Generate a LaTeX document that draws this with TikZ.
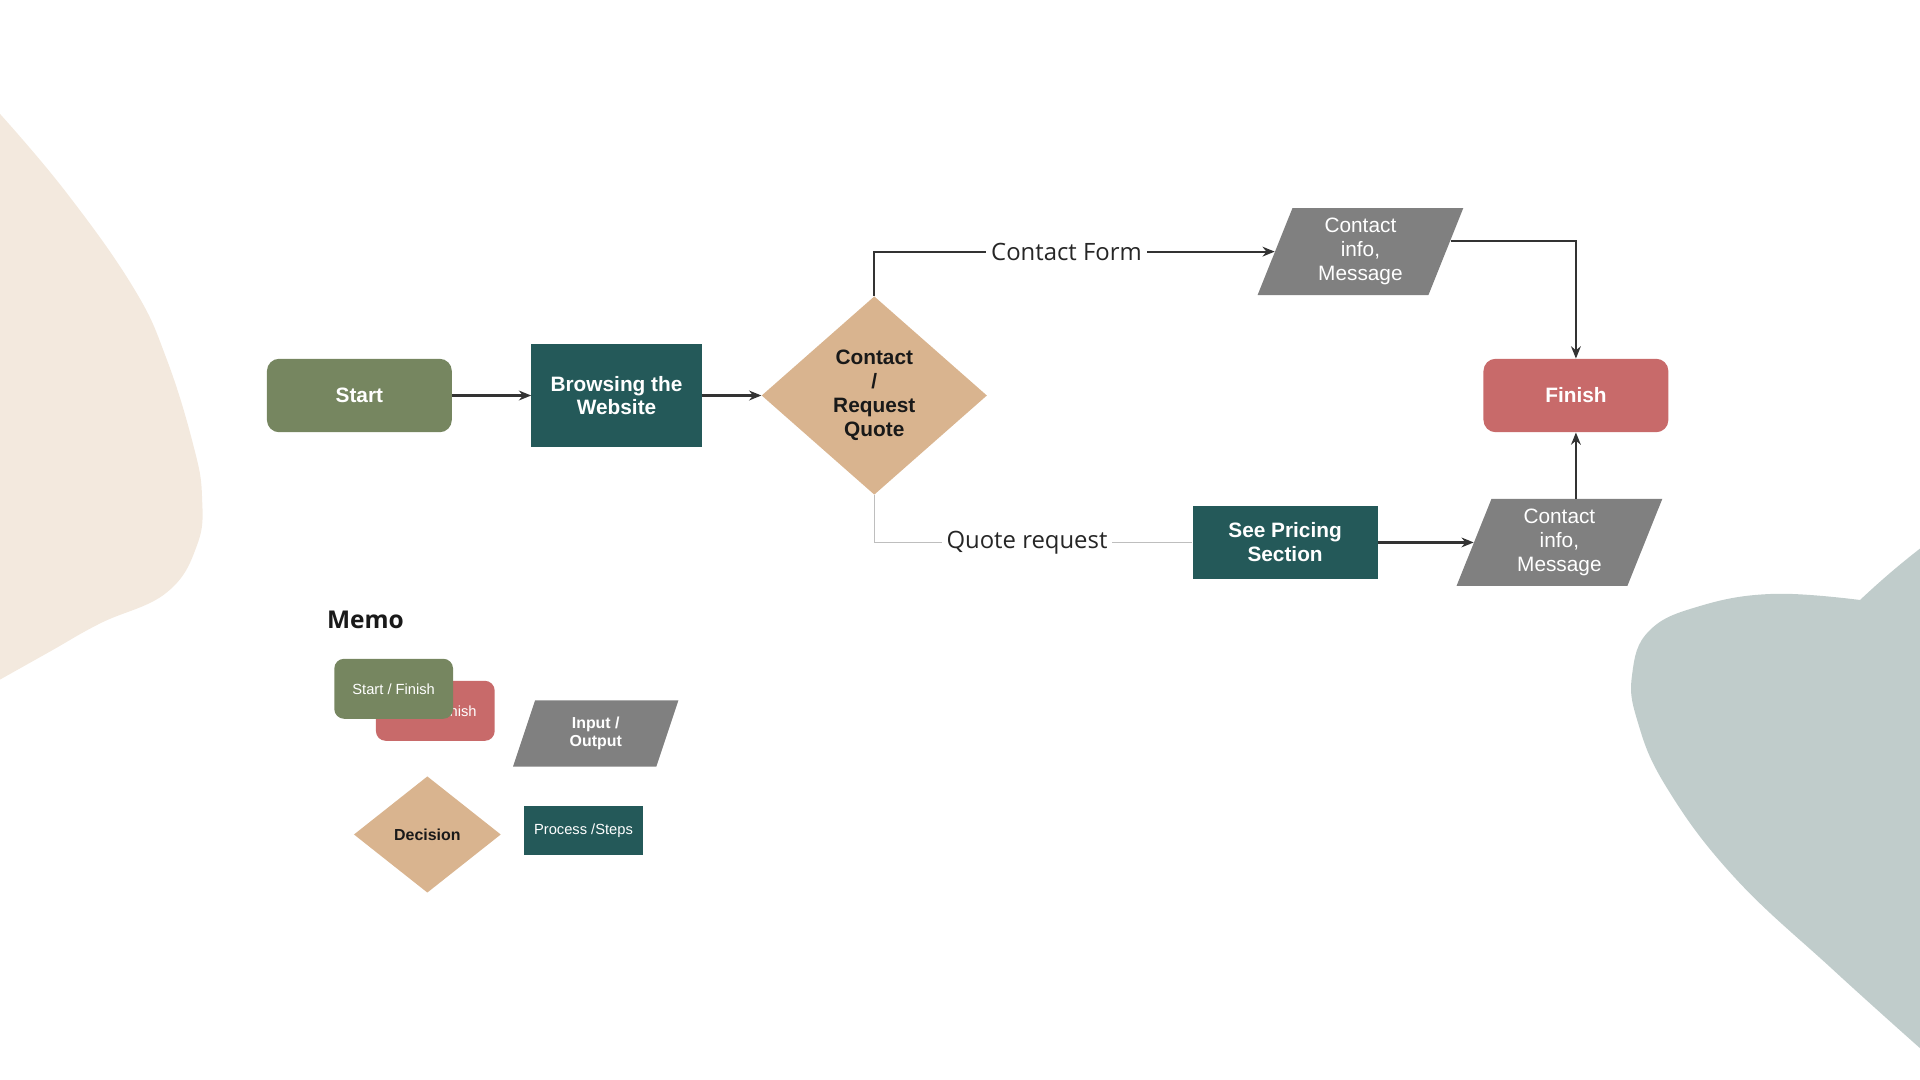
\documentclass[tikz,border=0pt]{standalone}
\usepackage{fontspec}
\setmainfont{Liberation Sans}
\newfontfamily\labelfont{Open Sans}
\usetikzlibrary{shapes.geometric, arrows.meta, positioning, calc}
\definecolor{startgreen}{RGB}{118,134,96}
\definecolor{stepteal}{RGB}{36,89,89}
\definecolor{choicetan}{RGB}{217,180,143}
\definecolor{finishred}{RGB}{200,106,106}
\definecolor{iogray}{RGB}{128,128,128}
\definecolor{blobbeige}{RGB}{243,233,222}
\definecolor{blobgray}{RGB}{192,204,203}
\definecolor{wire}{RGB}{51,51,51}
\definecolor{softwire}{RGB}{190,190,190}
\tikzset{
	term/.style={rectangle, rounded corners=10pt, minimum width=151pt, minimum height=60pt, text=white, font=\bfseries\fontsize{17}{19.5}\selectfont},
	process/.style={rectangle, fill=stepteal, align=center, text=white, font=\bfseries\fontsize{17}{19.5}\selectfont},
	decision/.style={diamond, aspect=1.136, inner sep=0pt, minimum width=184pt, minimum height=162pt, fill=choicetan, align=center, text=black!90, font=\bfseries\fontsize{17}{19.5}\selectfont},
	io/.style={trapezium, trapezium left angle=64, trapezium right angle=116, trapezium stretches body, inner sep=2pt, minimum width=168pt, minimum height=71pt, fill=iogray, align=center, text=white, font=\fontsize{17}{19.5}\selectfont},
	line/.style={draw=wire, line width=2pt},
	lbl/.style={fill=white, inner sep=4pt, text=black!85, font=\labelfont\fontsize{19.5}{22}\selectfont}
}

\begin{document}
\begin{tikzpicture}[
		x=1pt, y=-1pt,
		>={Stealth[length=10pt, width=8pt]},
		% Styles for the memo box
		legend term/.style={rectangle, rounded corners=8pt, minimum width=97pt, minimum height=49pt, text=white, font=\fontsize{12}{14}\selectfont},
		legend io/.style={io, trapezium left angle=60, trapezium right angle=120, minimum width=135pt, minimum height=54pt, font=\bfseries\fontsize{13}{15}\selectfont},
		legend decision/.style={decision, aspect=1.26, minimum width=120pt, minimum height=95pt, font=\bfseries\fontsize{13}{15}\selectfont},
		legend process/.style={process, minimum width=97pt, minimum height=40pt, font=\fontsize{12}{14}\selectfont}
		]
		\useasboundingbox (0,0) rectangle (1568,882);
		
		% --- Background Blobs ---
		\fill[blobbeige] plot[smooth, tension=0.7] coordinates {(0,93) (54,157) (109,235) (136,293) (158,364) (165,406) (161,445) (136,484) (82,509) (41,532) (0,555)} -- cycle;
		\fill[blobgray] (1568,448) .. controls (1550,462) and (1535,475) .. (1519,490)
			-- plot[smooth, tension=0.7] coordinates {(1519,490) (1448,485) (1388,495) (1347,515) (1333,550) (1337,588) (1361,643) (1416,716) (1497,792) (1568,856)} -- cycle;
		
		% --- Main Flow Nodes ---
		\node[term, fill=startgreen] (start) at (293.5,323) {Start};
		\node[process, minimum width=139pt, minimum height=84pt] (browse) at (503.5,323) {Browsing the\\Website};
		\node[decision] (choice) at (714,323) {Contact\\/\\Request\\Quote};
		\node[io] (form_info) at (1111,205.5) {Contact\\info,\\Message};
		\node[term, fill=finishred] (finish) at (1287,323) {Finish};
		\node[process, minimum width=151pt, minimum height=60pt] (pricing) at (1049.5,443) {See Pricing\\Section};
		\node[io] (quote_info) at (1273.5,443) {Contact\\info,\\Message};
		
		% --- Connections ---
		\draw[line, ->] (start) -- (browse);
		\draw[line, ->] (browse) -- (choice);
		\draw[line, line width=1.6pt, ->] (choice.north) |- node[lbl, pos=0.74] {Contact Form} (form_info);
		\draw[line, line width=1.6pt, ->] (form_info.7) -| (finish.north);
		\draw[draw=softwire, line width=1.1pt] (choice.south) |- node[lbl, pos=0.74] {Quote request} (pricing.west);
		\draw[line, ->] (pricing) -- (quote_info);
		\draw[line, ->] (quote_info.north -| finish.south) -- (finish.south);
		
		% --- Memo ---
		\node[text=black!90, font=\labelfont\bfseries\fontsize{20}{24}\selectfont] (memo) at (298.5,506) {Memo};
		\node[legend term, fill=finishred] (legend_finish) at (355.5,580.5) {Start / Finish};
		\node[legend term, fill=startgreen] (legend_start) at (321.5,562.5) {Start / Finish};
		\node[legend io] (legend_io) at (486.5,599) {Input /\\Output};
		\node[legend decision] (legend_decision) at (349,681.5) {Decision};
		\node[legend process] (legend_process) at (476.5,678) {Process /Steps};
		
	\end{tikzpicture}
\end{document}
